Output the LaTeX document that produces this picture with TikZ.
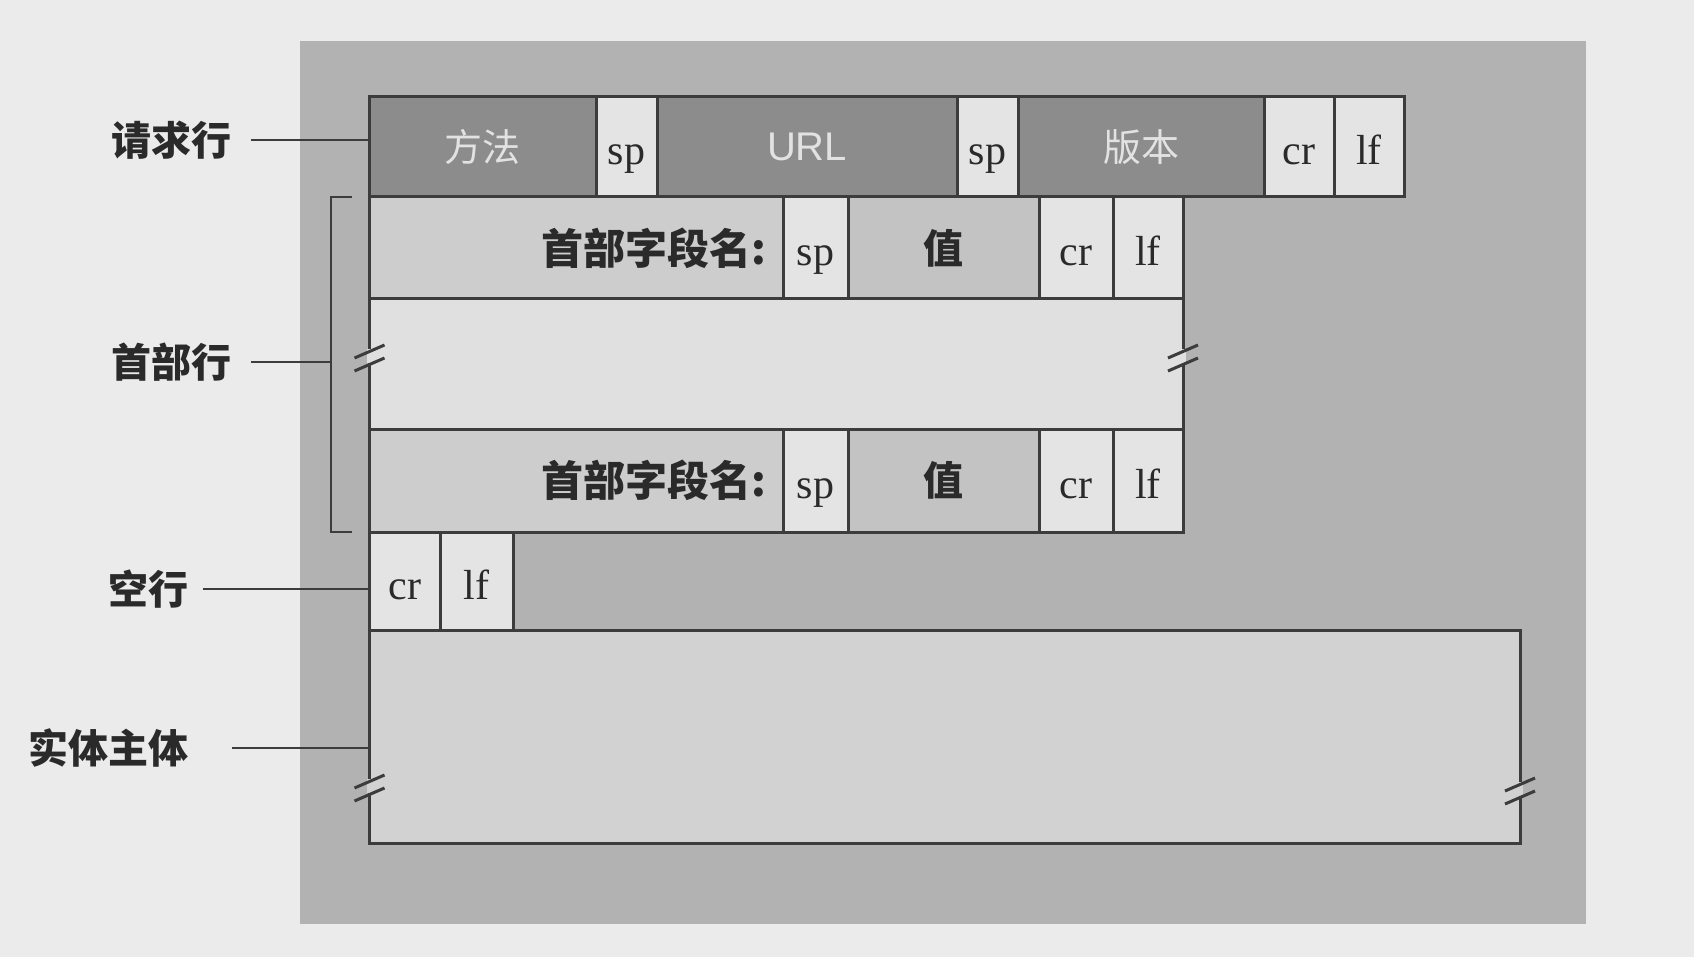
\documentclass[tikz,border=0pt]{standalone}
\usepackage{fontspec}
\setmainfont{Liberation Serif}
\newfontfamily\cjk{Noto Sans CJK SC}
\newfontfamily\lsans{Liberation Sans}
\definecolor{outerbg}{HTML}{EBEBEB}
\definecolor{panel}{HTML}{B2B2B2}
\definecolor{darkcell}{HTML}{8C8C8C}
\definecolor{lightcell}{HTML}{E4E4E4}
\definecolor{namecell}{HTML}{CDCDCD}
\definecolor{valcell}{HTML}{C3C3C3}
\definecolor{band}{HTML}{E0E0E0}
\definecolor{body}{HTML}{D2D2D2}
\definecolor{edge}{HTML}{3C3C3C}
\definecolor{darktext}{HTML}{2A2A2A}
\definecolor{ontext}{HTML}{E2E2E2}
\newcommand{\brkmark}[3]{%
  \begin{scope}[shift={(#1,#2)}]
    \fill[#3] (-3,-5) rectangle (3,9);
    \draw[edge, line width=3pt] (-15,4) -- (15,-9);
    \draw[edge, line width=3pt] (-15,17) -- (15,4);
  \end{scope}}
\begin{document}
\begin{tikzpicture}[x=1pt,y=-1pt,
  cell/.style={draw=edge, line width=3pt, anchor=north west, inner sep=0pt, outer sep=0pt},
  small/.style={cell, fill=lightcell, font=\fontsize{42}{46}\selectfont, text=darktext, text height=40pt, text depth=4pt},
  dark/.style={cell, fill=darkcell, text=ontext},
  lbl/.style={font=\cjk\bfseries\fontsize{40}{46}\selectfont, text=darktext, inner sep=0pt},
  conn/.style={draw=edge, line width=2.2pt}]
\useasboundingbox (0,0) rectangle (1694,957);
\fill[outerbg] (0,0) rectangle (1694,957);
\fill[panel] (300,41) rectangle (1586,924);

% request line
\node[dark, minimum width=226.5, minimum height=100, font=\cjk\fontsize{38}{44}\selectfont] (meth) at (369.5,97) {方法};
\node[small, minimum width=61, minimum height=100] (sp1) at (596,97) {sp};
\node[dark, minimum width=300, minimum height=100, font=\lsans\fontsize{40}{44}\selectfont] (url) at (657,97) {URL};
\node[small, minimum width=61, minimum height=100] (sp2) at (957,97) {sp};
\node[dark, minimum width=246, minimum height=100, font=\cjk\fontsize{38}{44}\selectfont] (ver) at (1018,97) {版本};
\node[small, minimum width=70, minimum height=100] (cr1) at (1264,97) {cr};
\node[small, minimum width=70, minimum height=100] (lf1) at (1334,97) {lf};

% header line 1
\node[cell, fill=namecell, minimum width=413.5, minimum height=102, text width=379.5, inner xsep=17, align=right, text=darktext, font=\cjk\bfseries\fontsize{42}{46}\selectfont] (hn1) at (369.5,197) {首部字段名:};
\node[small, minimum width=65, minimum height=102] (hsp1) at (783,197) {sp};
\node[cell, fill=valcell, minimum width=191, minimum height=102, text=darktext, font=\cjk\bfseries\fontsize{40}{46}\selectfont] (hv1) at (848,197) {值};
\node[small, minimum width=74, minimum height=102] (hcr1) at (1039,197) {cr};
\node[small, minimum width=70, minimum height=102] (hlf1) at (1113,197) {lf};

% band
\node[cell, fill=band, minimum width=813.5, minimum height=130] (hband) at (369.5,299) {};

% header line 2
\node[cell, fill=namecell, minimum width=413.5, minimum height=103, text width=379.5, inner xsep=17, align=right, text=darktext, font=\cjk\bfseries\fontsize{42}{46}\selectfont] (hn2) at (369.5,429) {首部字段名:};
\node[small, minimum width=65, minimum height=103] (hsp2) at (783,429) {sp};
\node[cell, fill=valcell, minimum width=191, minimum height=103, text=darktext, font=\cjk\bfseries\fontsize{40}{46}\selectfont] (hv2) at (848,429) {值};
\node[small, minimum width=74, minimum height=103] (hcr2) at (1039,429) {cr};
\node[small, minimum width=70, minimum height=103] (hlf2) at (1113,429) {lf};

% blank line
\node[small, minimum width=70.5, minimum height=98] (bcr) at (369.5,532) {cr};
\node[small, minimum width=73, minimum height=98] (blf) at (440,532) {lf};

% entity body
\node[cell, fill=body, minimum width=1150.5, minimum height=213] (ebody) at (369.5,630) {};

% break marks
\brkmark{369.5}{354}{band}
\brkmark{1183}{354}{band}
\brkmark{369.5}{784}{body}
\brkmark{1520}{787}{body}

% bracket for header lines
\coordinate (brtop) at (331,197);
\coordinate (brbot) at (331,532);
\coordinate (brmid) at (331,364);
\draw[conn, line width=2.8pt] (352,197) -- (brtop) -- (brbot) -- (352,532);

% labels
\node[lbl, anchor=east] (lreq) at (232,140) {请求行};
\node[lbl, anchor=east] (lhdr) at (232,362) {首部行};
\node[lbl, anchor=east] (lblank) at (189,589) {空行};
\node[lbl, anchor=east] (lbody) at (189,748) {实体主体};

\draw[conn, shorten <=19pt] (lreq.east) -- (lreq.east -| meth.west);
\draw[conn, shorten <=19pt] (lhdr.east) -- (lhdr.east -| brmid);
\draw[conn, shorten <=14pt] (lblank.east) -- (lblank.east -| bcr.west);
\draw[conn, shorten <=43pt] (lbody.east) -- (lbody.east -| ebody.west);
\end{tikzpicture}
\end{document}
